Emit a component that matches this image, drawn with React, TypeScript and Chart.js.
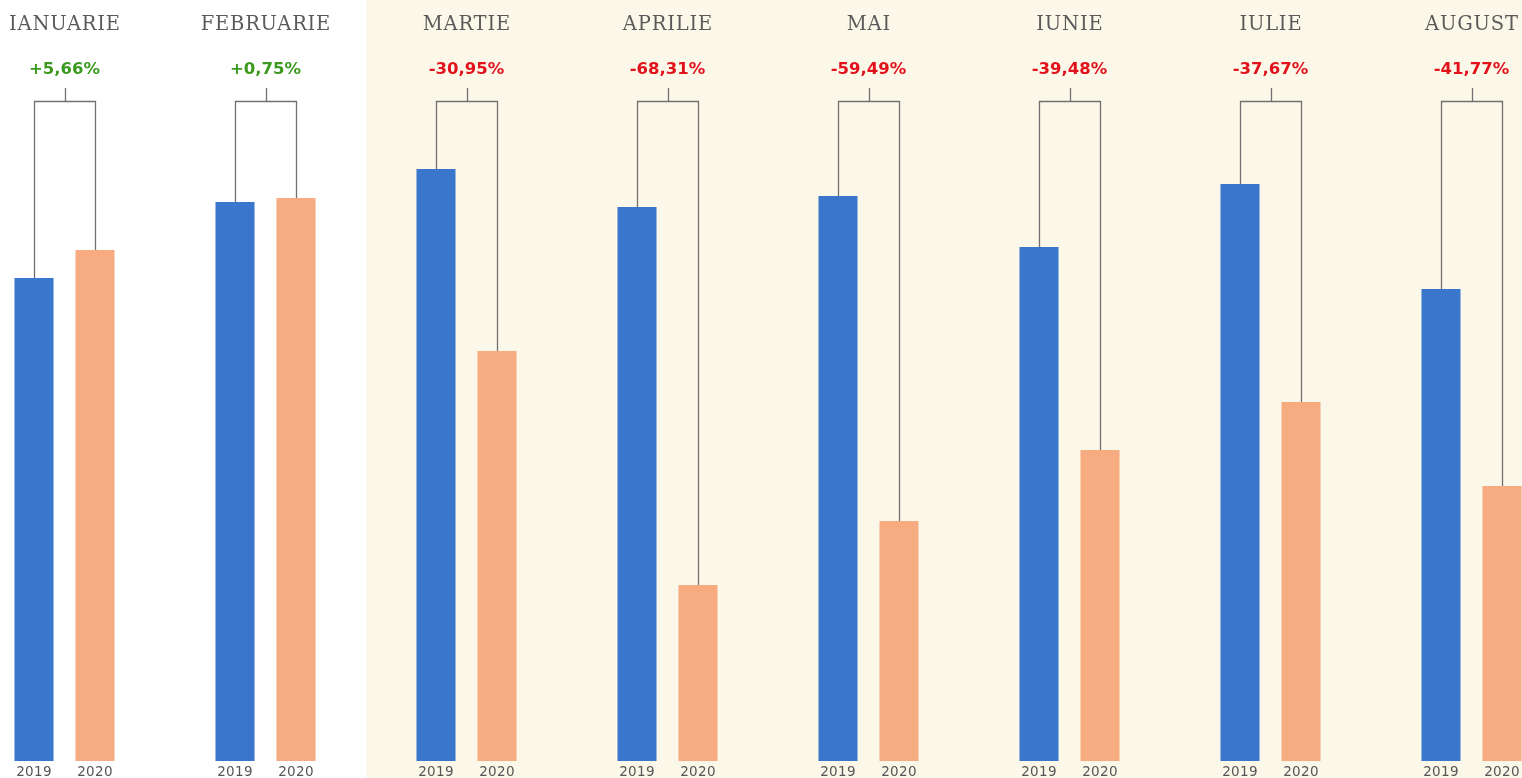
import React, { useEffect, useRef } from "react";
import { Chart, registerables } from "chart.js";

Chart.register(...registerables);

const months = ["IANUARIE", "FEBRUARIE", "MARTIE", "APRILIE", "MAI", "IUNIE", "IULIE", "AUGUST"];
const changes = ["+5,66%", "+0,75%", "-30,95%", "-68,31%", "-59,49%", "-39,48%", "-37,67%", "-41,77%"];
const values2019 = [483, 559, 592, 554, 565, 514, 577, 472];
const values2020 = [511, 563, 410, 176, 240, 311, 359, 275];
const yearLabels = ["2019", "2020"];
const yMax = 660;

const BLUE = "#3a76cc";
const ORANGE = "#f7ab80";
const CREAM = "#fcf8e9";
const LINE = "#707070";
const GREEN = "#3b9a1e";
const RED = "#e2121c";

const overlay = {
  id: "overlay",
  beforeDraw(chart: any) {
    const { ctx, scales } = chart;
    const x = scales.x;
    const boundary = (x.getPixelForValue(1) + x.getPixelForValue(2)) / 2;
    ctx.save();
    ctx.fillStyle = "#ffffff";
    ctx.fillRect(0, 0, chart.width, chart.height);
    ctx.fillStyle = CREAM;
    ctx.fillRect(boundary, 0, chart.width - boundary, chart.height);
    ctx.restore();
  },
  afterDatasetsDraw(chart: any) {
    const { ctx, scales } = chart;
    const x = scales.x;
    const y = scales.y;
    const m0 = chart.getDatasetMeta(0);
    const m1 = chart.getDatasetMeta(1);
    const bracketY = y.getPixelForValue(yMax);
    ctx.save();
    ctx.strokeStyle = LINE;
    ctx.lineWidth = 1.3;
    months.forEach((mo, i) => {
      const b0 = m0.data[i];
      const b1 = m1.data[i];
      const cx = x.getPixelForValue(i);
      ctx.beginPath();
      ctx.moveTo(Math.round(b0.x) + 0.5, b0.y);
      ctx.lineTo(Math.round(b0.x) + 0.5, bracketY + 0.5);
      ctx.lineTo(Math.round(b1.x) + 0.5, bracketY + 0.5);
      ctx.lineTo(Math.round(b1.x) + 0.5, b1.y);
      ctx.moveTo(Math.round(cx) + 0.5, bracketY);
      ctx.lineTo(Math.round(cx) + 0.5, bracketY - 13);
      ctx.stroke();

      ctx.textAlign = "center";
      ctx.textBaseline = "middle";
      ctx.fillStyle = "#5a5a5a";
      ctx.font = "19.5px 'DejaVu Serif', 'Liberation Serif', serif";
      (ctx as any).letterSpacing = "0.8px";
      ctx.fillText(mo, cx + 0.4, 25);

      (ctx as any).letterSpacing = "0px";
      ctx.fillStyle = changes[i].startsWith("+") ? GREEN : RED;
      ctx.font = "bold 16.5px 'DejaVu Sans'";
      ctx.fillText(changes[i], cx, 70);

      ctx.fillStyle = "#555555";
      ctx.font = "13.5px 'DejaVu Sans'";
      (ctx as any).letterSpacing = "0.3px";
      ctx.fillText(yearLabels[0], b0.x, 772);
      ctx.fillText(yearLabels[1], b1.x, 772);
      (ctx as any).letterSpacing = "0px";
    });
    ctx.restore();
  },
};

export default function App() {
  const ref = useRef<HTMLCanvasElement>(null);
  useEffect(() => {
    document.body.style.margin = "0";
    document.body.style.overflow = "hidden";
    const chart = new Chart(ref.current!, {
      type: "bar",
      data: {
        labels: months,
        datasets: [
          { label: yearLabels[0], data: values2019, backgroundColor: BLUE, borderWidth: 0 },
          { label: yearLabels[1], data: values2020, backgroundColor: ORANGE, borderWidth: 0 },
        ],
      },
      options: {
        responsive: false,
        animation: false,
        events: [],
        datasets: { bar: { categoryPercentage: 0.607, barPercentage: 0.64 } },
        layout: { padding: { top: 101, bottom: 17, left: 0, right: 0 } },
        plugins: { legend: { display: false }, tooltip: { enabled: false } },
        scales: {
          x: { display: false },
          y: { display: false, min: 0, max: yMax },
        },
      },
      plugins: [overlay],
    });
    return () => chart.destroy();
  }, []);
  return (
    <div style={{ position: "fixed", left: 0, top: 0, width: 1522, height: 778, overflow: "hidden", background: "#fff" }}>
      <canvas ref={ref} width={1608} height={778} style={{ position: "absolute", left: -36, top: 0, width: 1608, height: 778 }} />
    </div>
  );
}
